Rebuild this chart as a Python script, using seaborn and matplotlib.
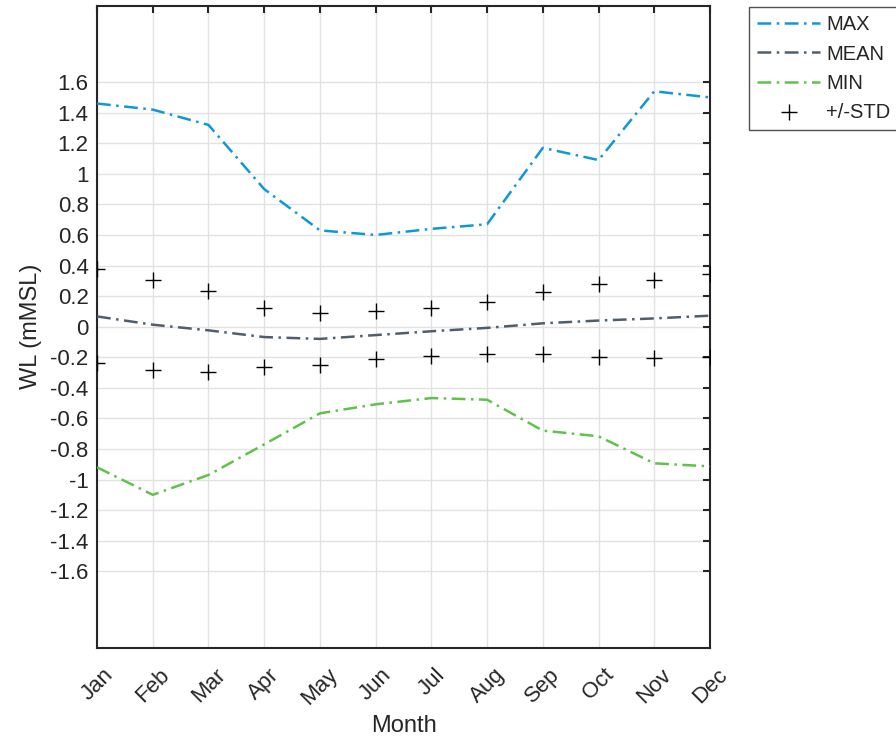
import numpy as np
import pandas as pd
import matplotlib
matplotlib.use("Agg")
import matplotlib.pyplot as plt
import seaborn as sns

# Monthly water-level statistics (m MSL)
months = ["Jan", "Feb", "Mar", "Apr", "May", "Jun",
          "Jul", "Aug", "Sep", "Oct", "Nov", "Dec"]
wl_max = [1.46, 1.42, 1.32, 0.90, 0.63, 0.60, 0.64, 0.67, 1.17, 1.09, 1.54, 1.50]
wl_mean = [0.067, 0.013, -0.024, -0.068, -0.080, -0.055, -0.030, -0.008, 0.022, 0.040, 0.054, 0.072]
wl_min = [-0.92, -1.10, -0.97, -0.77, -0.567, -0.508, -0.467, -0.478, -0.68, -0.717, -0.894, -0.914]
std_upper = [0.375, 0.305, 0.235, 0.12, 0.089, 0.102, 0.124, 0.159, 0.224, 0.279, 0.305, 0.342]
std_lower = [-0.238, -0.286, -0.297, -0.264, -0.253, -0.21, -0.19, -0.179, -0.179, -0.199, -0.205, -0.199]
y_ticks = [-1.6, -1.4, -1.2, -1.0, -0.8, -0.6, -0.4, -0.2, 0.0,
           0.2, 0.4, 0.6, 0.8, 1.0, 1.2, 1.4, 1.6]

df = pd.DataFrame({
    "m": np.arange(len(months)),
    "MAX": wl_max, "MEAN": wl_mean, "MIN": wl_min,
    "UP": std_upper, "LO": std_lower,
})

sns.set_style("white")
plt.rcParams["font.family"] = ["Liberation Sans", "DejaVu Sans"]
plt.rcParams["text.color"] = "#262626"

fig = plt.figure(figsize=(8.96, 7.39), dpi=100)
ax = fig.add_axes([0.1083, 0.1236, 0.7924 - 0.1083, 0.9923 - 0.1236])

dashdot = (0, (5.5, 2.2, 1.0, 2.2))
lw = 1.8
sns.lineplot(data=df, x="m", y="MAX", ax=ax, color="#0f98d8", lw=lw,
             linestyle=dashdot, label="MAX", zorder=3)
sns.lineplot(data=df, x="m", y="MEAN", ax=ax, color="#4e5e6c", lw=lw,
             linestyle=dashdot, label="MEAN", zorder=3)
sns.lineplot(data=df, x="m", y="MIN", ax=ax, color="#5ec24c", lw=lw,
             linestyle=dashdot, label="MIN", zorder=3)
sns.scatterplot(data=df, x="m", y="UP", ax=ax, marker="+", s=140,
                color="black", linewidth=1.0, label="+/-STD", zorder=4)
sns.scatterplot(data=df, x="m", y="LO", ax=ax, marker="+", s=140,
                color="black", linewidth=1.0, zorder=4)

ax.set_xlim(0, len(months) - 1)
ax.set_ylim(-2.1, 2.1)
ax.set_xticks(df["m"])
ax.set_xticklabels(months, rotation=45, ha="center", fontsize=16)
ax.set_yticks(y_ticks)
ax.set_yticklabels([f"{v:g}" for v in y_ticks], fontsize=16)

ax.grid(True, color="#e2e2e2", linewidth=1.0)
ax.set_axisbelow(True)
ax.tick_params(axis="both", direction="in", length=5, width=1.5,
               color="#262626", labelcolor="#262626",
               top=True, right=True)
ax.tick_params(axis="x", pad=12)
ax.tick_params(axis="y", pad=6)
for s in ax.spines.values():
    s.set_color("#262626")
    s.set_linewidth(1.5)

ax.set_xlabel("Month", fontsize=17, color="#262626", labelpad=4)
ax.set_ylabel("WL (mMSL)", fontsize=17, color="#262626", labelpad=6)

leg = ax.legend(loc="upper left", bbox_to_anchor=(749 / 896, 1 - 7 / 739),
                bbox_transform=fig.transFigure, fontsize=14.5, frameon=True,
                fancybox=False, edgecolor="#262626", borderpad=0.42,
                handlelength=3.1, handletextpad=0.3, labelspacing=0.5,
                borderaxespad=0)
leg.get_frame().set_linewidth(1.0)

fig.savefig("out.png", dpi=100)
